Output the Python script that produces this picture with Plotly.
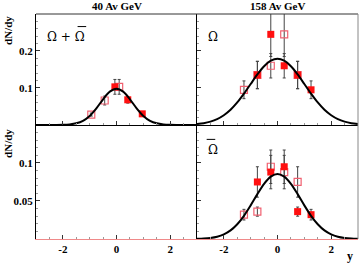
import plotly.graph_objects as go
from plotly.subplots import make_subplots

# ---------------- data ----------------
# 40 AGeV, Omega + anti-Omega
tl_filled_y = [-0.06, 0.42, 0.96]
tl_filled_v = [0.103, 0.068, 0.030]
tl_filled_e = [0.020, 0.009, 0.004]
tl_open_y = [0.10, -0.44, -0.94]
tl_open_v = [0.103, 0.066, 0.028]
tl_open_e = [0.020, 0.012, 0.004]

# 158 AGeV, Omega
tr_filled_y = [-0.75, -0.25, 0.25, 0.75, 1.25]
tr_filled_v = [0.135, 0.245, 0.160, 0.135, 0.095]
tr_filled_e = [0.037, 0.060, 0.033, 0.037, 0.024]
tr_open_y = [0.75, 0.25, -0.25, -0.75, -1.25]
tr_open_v = [0.135, 0.245, 0.160, 0.135, 0.095]
tr_open_e = [0.037, 0.060, 0.033, 0.037, 0.024]

# 158 AGeV, anti-Omega
br_filled_y = [-0.75, -0.25, 0.25, 0.75, 1.25]
br_filled_v = [0.075, 0.088, 0.095, 0.036, 0.032]
br_filled_e = [0.020, 0.022, 0.022, 0.006, 0.007]
br_open_y = [0.75, 0.25, -0.25, -0.75, -1.25]
br_open_v = [0.075, 0.088, 0.095, 0.036, 0.032]
br_open_e = [0.020, 0.022, 0.022, 0.006, 0.007]

# fit curves
curve_y = [-3.0, -2.75, -2.5, -2.25, -2.0, -1.75, -1.5, -1.25, -1.0, -0.75, -0.5, -0.25, 0.0,
           0.25, 0.5, 0.75, 1.0, 1.25, 1.5, 1.75, 2.0, 2.25, 2.5, 2.75, 3.0]
tl_curve = [0.0, 0.0, 0.0, 0.0001, 0.0004, 0.0014, 0.0043, 0.0112, 0.0244, 0.0449, 0.0693, 0.0899, 0.098,
            0.0899, 0.0693, 0.0449, 0.0244, 0.0112, 0.0043, 0.0014, 0.0004, 0.0001, 0.0, 0.0, 0.0]
tr_curve = [0.0024, 0.0047, 0.0089, 0.0157, 0.0262, 0.0410, 0.0607, 0.0845, 0.1107, 0.1366, 0.1588, 0.1737, 0.179,
            0.1737, 0.1588, 0.1366, 0.1107, 0.0845, 0.0607, 0.0410, 0.0262, 0.0157, 0.0089, 0.0047, 0.0024]
br_curve = [0.0002, 0.0006, 0.0014, 0.0030, 0.0061, 0.0113, 0.0194, 0.0305, 0.0442, 0.0590, 0.0725, 0.0820, 0.0855,
            0.0820, 0.0725, 0.0590, 0.0442, 0.0305, 0.0194, 0.0113, 0.0061, 0.0030, 0.0014, 0.0006, 0.0002]

x_tickvals = [-2, 0, 2]
x_ticktext = ["-2", "0", "2"]
top_tickvals = [0.1, 0.2]
top_ticktext = ["0.1", "0.2"]
bot_tickvals = [0.05, 0.1]
bot_ticktext = ["0.05", "0.1"]

panel_titles = ["40 Av GeV", "158 Av GeV"]

# ---------------- styles ----------------
RED = "#ff1010"
OPEN = "#f06070"
ERR = "#444444"
SERIF = "Liberation Serif"

fig = make_subplots(rows=2, cols=2, horizontal_spacing=0, vertical_spacing=0)


def add_panel(row, col, fy, fv, fe, oy, ov, oe, cv):
    fig.add_trace(go.Scatter(
        x=oy, y=ov, mode="markers",
        marker=dict(symbol="square-open", size=7, color=OPEN, line=dict(width=1.2, color=OPEN)),
        error_y=dict(type="data", array=oe, color=ERR, thickness=1, width=1.5),
        showlegend=False), row=row, col=col)
    fig.add_trace(go.Scatter(
        x=fy, y=fv, mode="markers",
        marker=dict(symbol="square", size=7, color=RED, line=dict(width=0)),
        error_y=dict(type="data", array=fe, color=ERR, thickness=1, width=1.5),
        showlegend=False), row=row, col=col)
    fig.add_trace(go.Scatter(
        x=curve_y, y=cv, mode="lines", line=dict(color="black", width=2, shape="spline", smoothing=0.8),
        showlegend=False, hoverinfo="skip"), row=row, col=col)


add_panel(1, 1, tl_filled_y, tl_filled_v, tl_filled_e, tl_open_y, tl_open_v, tl_open_e, tl_curve)
add_panel(1, 2, tr_filled_y, tr_filled_v, tr_filled_e, tr_open_y, tr_open_v, tr_open_e, tr_curve)
add_panel(2, 2, br_filled_y, br_filled_v, br_filled_e, br_open_y, br_open_v, br_open_e, br_curve)
# empty bottom-left panel needs an (invisible) trace to exist
fig.add_trace(go.Scatter(x=[None], y=[None], showlegend=False), row=2, col=1)

tickfont = dict(family=SERIF, size=11, color="black", weight="bold")

xdom = {1: [0, 0.5], 2: [0.5, 1]}
ydom = {1: [0.507, 1], 2: [0, 0.507]}

for r in (1, 2):
    for c in (1, 2):
        bottom = (r == 2)
        fig.update_xaxes(
            row=r, col=c, domain=xdom[c], range=[-3, 3], automargin=False,
            showline=True, linecolor="#f08a8a" if bottom else "black", linewidth=1,
            ticks="inside", ticklen=4, tickcolor="#333", tickwidth=1,
            tickmode="array", tickvals=x_tickvals, ticktext=x_ticktext,
            showticklabels=bottom, tickfont=tickfont,
            minor=dict(ticks="inside", dtick=0.5, tick0=0, ticklen=2, tickcolor="#999", showgrid=False),
            showgrid=False, zeroline=False, mirror=False,
        )
        if r == 1:
            yv, yt, yr, md = top_tickvals, top_ticktext, [0, 0.3], 0.02
        else:
            yv, yt, yr, md = bot_tickvals, bot_ticktext, [0, 0.15], 0.01
        fig.update_yaxes(
            row=r, col=c, domain=ydom[r], range=yr, automargin=False,
            showline=True, linecolor="black", linewidth=1,
            ticks="inside", ticklen=4, tickcolor="#333", tickwidth=1,
            tickmode="array", tickvals=yv, ticktext=yt,
            showticklabels=(c == 1), tickfont=tickfont,
            minor=dict(ticks="inside", dtick=md, tick0=0, ticklen=2, tickcolor="#999", showgrid=False),
            showgrid=False, zeroline=False, mirror=False,
        )

annotations = []
for i, t in enumerate(panel_titles):
    annotations.append(dict(text=t, xref="paper", yref="paper", x=0.25 + 0.5 * i, y=1.037,
                            xanchor="center", yanchor="middle", showarrow=False,
                            font=dict(family=SERIF, size=11, color="black", weight="bold")))
for yy in (0.929, 0.427):
    annotations.append(dict(text="dN/dy", xref="paper", yref="paper", x=-0.087, y=yy,
                            xanchor="center", yanchor="middle", textangle=-90, showarrow=False,
                            font=dict(family=SERIF, size=11, color="black", weight="bold")))
annotations.append(dict(text="y", xref="paper", yref="paper", x=0.976, y=-0.075,
                        xanchor="center", yanchor="middle", showarrow=False,
                        font=dict(family=SERIF, size=12, color="black", weight="bold")))

SYMFONT = dict(family="DejaVu Serif", size=12, color="black")
annotations.append(dict(text="Ω + Ω", xref="x", yref="y", x=-2.68, y=0.238,
                        xanchor="left", yanchor="middle", showarrow=False, font=SYMFONT))
annotations.append(dict(text="Ω", xref="x2", yref="y2", x=-2.65, y=0.238,
                        xanchor="left", yanchor="middle", showarrow=False, font=SYMFONT))
annotations.append(dict(text="Ω", xref="x4", yref="y4", x=-2.65, y=0.117,
                        xanchor="left", yanchor="middle", showarrow=False, font=SYMFONT))

shapes = [
    dict(type="line", xref="paper", yref="paper", x0=0, x1=1, y0=1, y1=1,
         line=dict(color="#333", width=1)),
    dict(type="line", xref="paper", yref="paper", x0=1, x1=1, y0=0, y1=1,
         line=dict(color="#888", width=1)),
    # overbars of the anti-Omega symbols
    dict(type="line", xref="x", yref="y", x0=-1.45, x1=-1.13, y0=0.266, y1=0.266,
         line=dict(color="black", width=1)),
    dict(type="line", xref="x4", yref="y4", x0=-2.64, x1=-2.32, y0=0.131, y1=0.131,
         line=dict(color="black", width=1)),
]

fig.update_layout(
    width=359, height=263,
    margin=dict(l=36, r=1, t=14, b=24),
    paper_bgcolor="white", plot_bgcolor="white",
    annotations=annotations, shapes=shapes,
    showlegend=False,
)

fig.write_html("out.html",
               config={"displayModeBar": False},
               post_script="document.body.style.margin='0';document.body.style.overflow='hidden';")
